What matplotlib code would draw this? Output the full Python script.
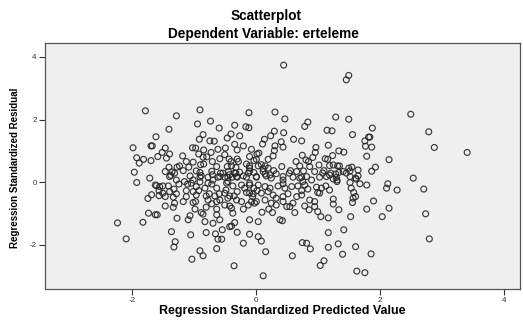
import matplotlib
matplotlib.use("Agg")
import matplotlib.pyplot as plt

plt.rcParams['font.family'] = ['Liberation Sans', 'DejaVu Sans']

title = "Scatterplot"
subtitle = "Dependent Variable: erteleme"
x_label = "Regression Standardized Predicted Value"
y_label = "Regression Standardized Residual"
x_ticks = [-2, 0, 2, 4]
y_ticks = [-2, 0, 2, 4]

# Estimated (predicted, residual) values, grouped by region of the plot
pred_a = [-1.78,-1.61,-1.98,-1.69,-1.67,-1.92,-1.81,-1.88,-1.69,-1.58,-1.96,-1.71]
resid_a = [2.28,1.45,1.10,1.16,1.16,0.78,0.73,0.61,0.69,0.82,0.32,0.13]

pred_b = [-0.90,-1.28,-0.11,-0.73,-0.94,-0.59,-0.34,-0.16,-0.11,-1.40,-0.85,-0.40,-0.26,-0.91,-0.74,-0.67,-0.46,-0.34,-0.20]
resid_b = [2.31,2.12,2.22,1.95,1.86,1.73,1.82,1.77,1.74,1.69,1.52,1.54,1.48,1.37,1.32,1.31,1.41,1.21,1.16]

pred_c = [-1.46,-1.02,-0.97,-0.84,-0.61,-0.49,-0.30,-0.07,-1.51,-1.39,-0.92,-0.72,-0.50,0.02]
resid_c = [1.09,1.10,1.09,1.03,1.05,1.09,1.03,1.05,0.95,0.90,0.90,0.95,0.88,0.90]

pred_d = [-1.18,-0.85,-0.79,-0.58,-0.43,-0.30,-0.10,-1.44,-1.12,-1.01,-0.70,-0.40,-0.28,-0.03]
resid_d = [0.84,0.80,0.81,0.75,0.74,0.74,0.82,0.77,0.66,0.64,0.66,0.66,0.66,0.69]

pred_e = [-1.40,-1.27,-1.23,-1.08,-0.89,-0.84,-0.63,-0.46,-0.39,-0.32,-0.15,-0.10,0.04]
resid_e = [0.48,0.48,0.52,0.48,0.56,0.58,0.50,0.50,0.52,0.47,0.58,0.52,0.52]

pred_f = [-1.46,-1.35,-1.17,-0.96,-0.90,-0.71,-0.53,-0.44,-0.34,-0.26,-0.10,-0.03,-1.39,-1.06,-0.90,-0.58,-0.45,-0.31,-0.15,0.01]
resid_f = [0.34,0.33,0.37,0.36,0.31,0.35,0.29,0.34,0.29,0.32,0.36,0.31,0.18,0.20,0.16,0.18,0.15,0.18,0.16,0.18]

pred_g = [0.45,1.50,1.46,0.31,0.47,1.29,1.50,0.84,0.79,1.15,1.23,0.30,0.45,1.56,0.24,0.14,0.11,0.41,0.61,0.74,0.31,0.44,1.17]
resid_g = [3.74,3.41,3.27,2.24,2.02,2.08,2.01,1.92,1.78,1.66,1.64,1.63,1.58,1.52,1.48,1.37,1.22,1.29,1.37,1.32,1.16,1.12,1.18]

pred_h = [0.05,0.30,0.97,0.96,1.34,1.42,0.28,0.20,0.75,0.92,1.12,1.16,1.24,0.01,0.81,0.85,0.65,1.02,1.32,1.35,1.50,1.55,0.09,0.15,0.42,0.71,0.87,1.19,1.25]
resid_h = [0.93,1.01,1.11,0.95,1.00,0.96,0.84,0.73,0.86,0.79,0.75,0.73,0.85,0.73,0.71,0.66,0.66,0.55,0.52,0.52,0.45,0.48,0.56,0.52,0.50,0.52,0.50,0.53,0.55]

pred_i = [-0.10,0.12,0.20,0.29,0.56,0.66,0.77,0.95,1.10,1.21,1.29,1.34,1.52,1.65,0.15,0.23,0.44,0.60,0.74,1.14,1.30,1.52,1.65]
resid_i = [0.45,0.43,0.45,0.37,0.37,0.34,0.36,0.34,0.37,0.29,0.26,0.31,0.36,0.39,0.26,0.23,0.18,0.16,0.16,0.18,0.15,0.18,0.20]

pred_j = [2.50,1.88,2.79,1.76,1.82,1.84,1.77,1.87,2.88,3.41,1.79,2.15,1.93,1.87,1.61,2.54]
resid_j = [2.17,1.73,1.61,1.32,1.44,1.44,1.15,1.12,1.11,0.95,0.83,0.72,0.48,0.35,0.13,0.13]

pred_k = [-1.92,-1.60,-1.68,-1.74,-1.56,-1.56,-1.73,-1.62,-1.59,-2.23,-1.82,-2.09]
resid_k = [-0.01,-0.11,-0.40,-0.52,-0.27,-0.43,-0.99,-1.04,-1.04,-1.30,-1.28,-1.81]

pred_l = [-1.37,-1.31,-1.01,-0.88,-0.90,-0.77,-0.70,-0.61,-0.57,-0.50,-0.42,-0.38,-0.32,-0.30,-0.20,-0.12,0.01]
resid_l = [0.22,0.29,0.07,0.21,0.01,0.16,0.24,0.16,0.29,0.16,0.24,0.16,0.29,0.16,0.20,0.29,0.16]

pred_m = [-1.62,-1.55,-1.50,-1.41,-1.24,-1.10,-1.04,-0.96,-0.71,-0.63,-0.47,-0.37,-0.23,-0.10,-0.03,-1.50,-1.39,-1.12,-1.01,-0.92]
resid_m = [-0.09,-0.14,-0.12,-0.12,-0.06,-0.06,-0.03,-0.14,-0.06,-0.19,-0.03,-0.12,-0.09,-0.09,-0.19,-0.35,-0.30,-0.27,-0.30,-0.27]

pred_n = [-0.75,-0.66,-0.59,-0.50,-0.42,-0.30,-0.15,-0.04,0.02,-1.46,-1.33,-0.97,-0.77,-0.63,-0.58,-0.50,-0.42,-0.31,-0.23,-0.12,-0.02,-1.46,-1.31]
resid_n = [-0.37,-0.44,-0.37,-0.35,-0.44,-0.30,-0.33,-0.37,-0.27,-0.46,-0.48,-0.62,-0.57,-0.62,-0.57,-0.73,-0.76,-0.57,-0.62,-0.73,-0.67,-0.76,-0.67]

pred_o = [-1.06,-0.88,-0.85,-0.63,-0.37,-1.27,-1.09,-0.82,-0.69,-0.58,-0.34,-0.10,0.04,-0.54,-0.42,-0.39,-1.36,-1.05,-0.80,-0.65,-0.30,-0.10,-0.61,-0.55,0.04,-1.30,-1.32,-0.20,-0.63,-0.90,-0.85,-1.03,-0.35]
resid_o = [-1.07,-0.97,-1.02,-1.04,-0.99,-1.15,-1.20,-1.26,-1.31,-1.20,-1.29,-1.20,-1.26,-1.52,-1.42,-1.40,-1.58,-1.68,-1.61,-1.65,-1.60,-1.66,-1.82,-1.82,-1.74,-1.90,-2.07,-1.95,-2.12,-2.19,-2.35,-2.46,-2.67]

pred_p = [0.09,0.16,0.12,0.59,0.75,0.82,0.88,1.17,1.33,1.10,1.04,1.40,1.61,1.63,1.17,1.42,1.53,0.39,0.43,1.05,1.17,0.10,0.21,0.27,0.50,0.63,0.86,0.95,1.00,1.34]
resid_p = [-1.88,-2.22,-2.99,-2.35,-1.93,-1.95,-2.13,-2.08,-1.97,-2.51,-2.66,-2.30,-2.06,-2.84,-1.61,-1.52,-1.10,-1.20,-1.23,-1.10,-1.14,-0.96,-0.86,-0.97,-0.78,-0.97,-0.88,-0.78,-0.94,-0.88]

pred_q1 = [-0.07,0.01,0.15,0.25,0.33,0.44,0.55,0.60,0.79,1.25,1.25,1.56]
resid_q1 = [-0.62,-0.62,-0.57,-0.67,-0.73,-0.62,-0.78,-0.67,-0.76,-0.54,-0.70,-0.65]

pred_q2 = [-0.10,0.09,0.20,0.28,0.33,0.44,0.52,0.66,0.74,0.87,0.95,1.03,1.58,1.61]
resid_q2 = [-0.35,-0.35,-0.30,-0.41,-0.51,-0.46,-0.37,-0.46,-0.41,-0.57,-0.62,-0.35,-0.33,-0.46]

pred_q3 = [-0.10,0.04,0.15,0.23,0.36,0.44,0.47,0.58,0.68,0.74,0.79,0.84,0.98,1.00,1.06,1.13,1.19,1.31,1.54]
resid_q3 = [-0.03,-0.09,-0.14,-0.19,-0.12,-0.05,-0.19,-0.14,-0.12,-0.27,-0.09,-0.22,-0.16,-0.33,-0.19,-0.12,-0.25,0.02,-0.19]

pred_q4 = [0.12,0.17,0.25,0.33,0.44,0.54,0.71,0.76,0.82,0.90,1.03,1.08,1.19,1.25,1.31,1.41,1.46,1.52,1.62]
resid_q4 = [0.34,0.20,0.13,0.27,0.07,0.29,0.13,0.02,0.18,0.07,0.16,0.29,0.23,0.10,0.07,0.34,0.29,-0.01,0.10]

pred_r = [1.68,1.79,2.13,2.11,2.28,2.71,1.57,1.90,1.79,2.15,2.04,2.74,2.80,1.86,1.76]
resid_r = [-0.05,-0.09,-0.05,-0.19,-0.25,-0.22,-0.51,-0.60,-0.86,-0.83,-1.10,-1.01,-1.81,-2.29,-2.89]

pred_s = [-1.28,-1.15,-0.77,-0.69,-0.45,-1.32,-0.82,-0.48,-0.18,-1.28,-1.12,-0.96,-0.80,-0.45,-0.35,-0.05,-1.17,-1.01,-0.71,-1.33,-0.98,-0.80,-0.63,-0.39,-0.20]
resid_s = [0.07,0.02,-0.03,0.07,0.02,-0.22,-0.19,-0.25,-0.19,-0.37,-0.46,-0.41,-0.44,-0.51,-0.44,-0.46,-0.62,-0.65,-0.69,-0.80,-0.86,-0.80,-0.86,-0.83,-0.86]

pred_groups = [pred_a, pred_b, pred_c, pred_d, pred_e, pred_f, pred_g, pred_h, pred_i, pred_j,
               pred_k, pred_l, pred_m, pred_n, pred_o, pred_p, pred_q1, pred_q2, pred_q3, pred_q4,
               pred_r, pred_s]
resid_groups = [resid_a, resid_b, resid_c, resid_d, resid_e, resid_f, resid_g, resid_h, resid_i, resid_j,
                resid_k, resid_l, resid_m, resid_n, resid_o, resid_p, resid_q1, resid_q2, resid_q3, resid_q4,
                resid_r, resid_s]

fig = plt.figure(figsize=(5.23, 3.20), dpi=100, facecolor='white')
ax = fig.add_axes([0.086, 0.097, 0.908, 0.770])
ax.set_facecolor('#efefef')

for px, ry in zip(pred_groups, resid_groups):
    ax.scatter(px, ry, s=18, facecolors='none', edgecolors='#262626',
               linewidths=0.85, alpha=0.9, zorder=3)

ax.set_xlim(-3.40, 4.26)
ax.set_ylim(-3.41, 4.46)
ax.set_xticks(x_ticks)
ax.set_yticks(y_ticks)
ax.set_xticklabels([str(t) for t in x_ticks])
ax.set_yticklabels([str(t) for t in y_ticks])
ax.tick_params(axis='both', labelsize=5.8, colors='#333333', length=4, width=0.8, pad=2)
for sp in ax.spines.values():
    sp.set_color('#555555')
    sp.set_linewidth(0.9)

ax.set_xlabel(x_label, fontsize=9, fontweight='bold')
ax.xaxis.set_label_coords(0.5, -0.066)
ax.set_ylabel(y_label, fontsize=7, fontweight='bold')
ax.yaxis.set_label_coords(-0.052, 0.49)

fig.text(0.508, 0.951, title, ha='center', va='center', fontsize=9.8, fontweight='bold')
fig.text(0.503, 0.895, subtitle, ha='center', va='center', fontsize=9.8, fontweight='bold')

fig.savefig('out.png', dpi=100, facecolor='white')
